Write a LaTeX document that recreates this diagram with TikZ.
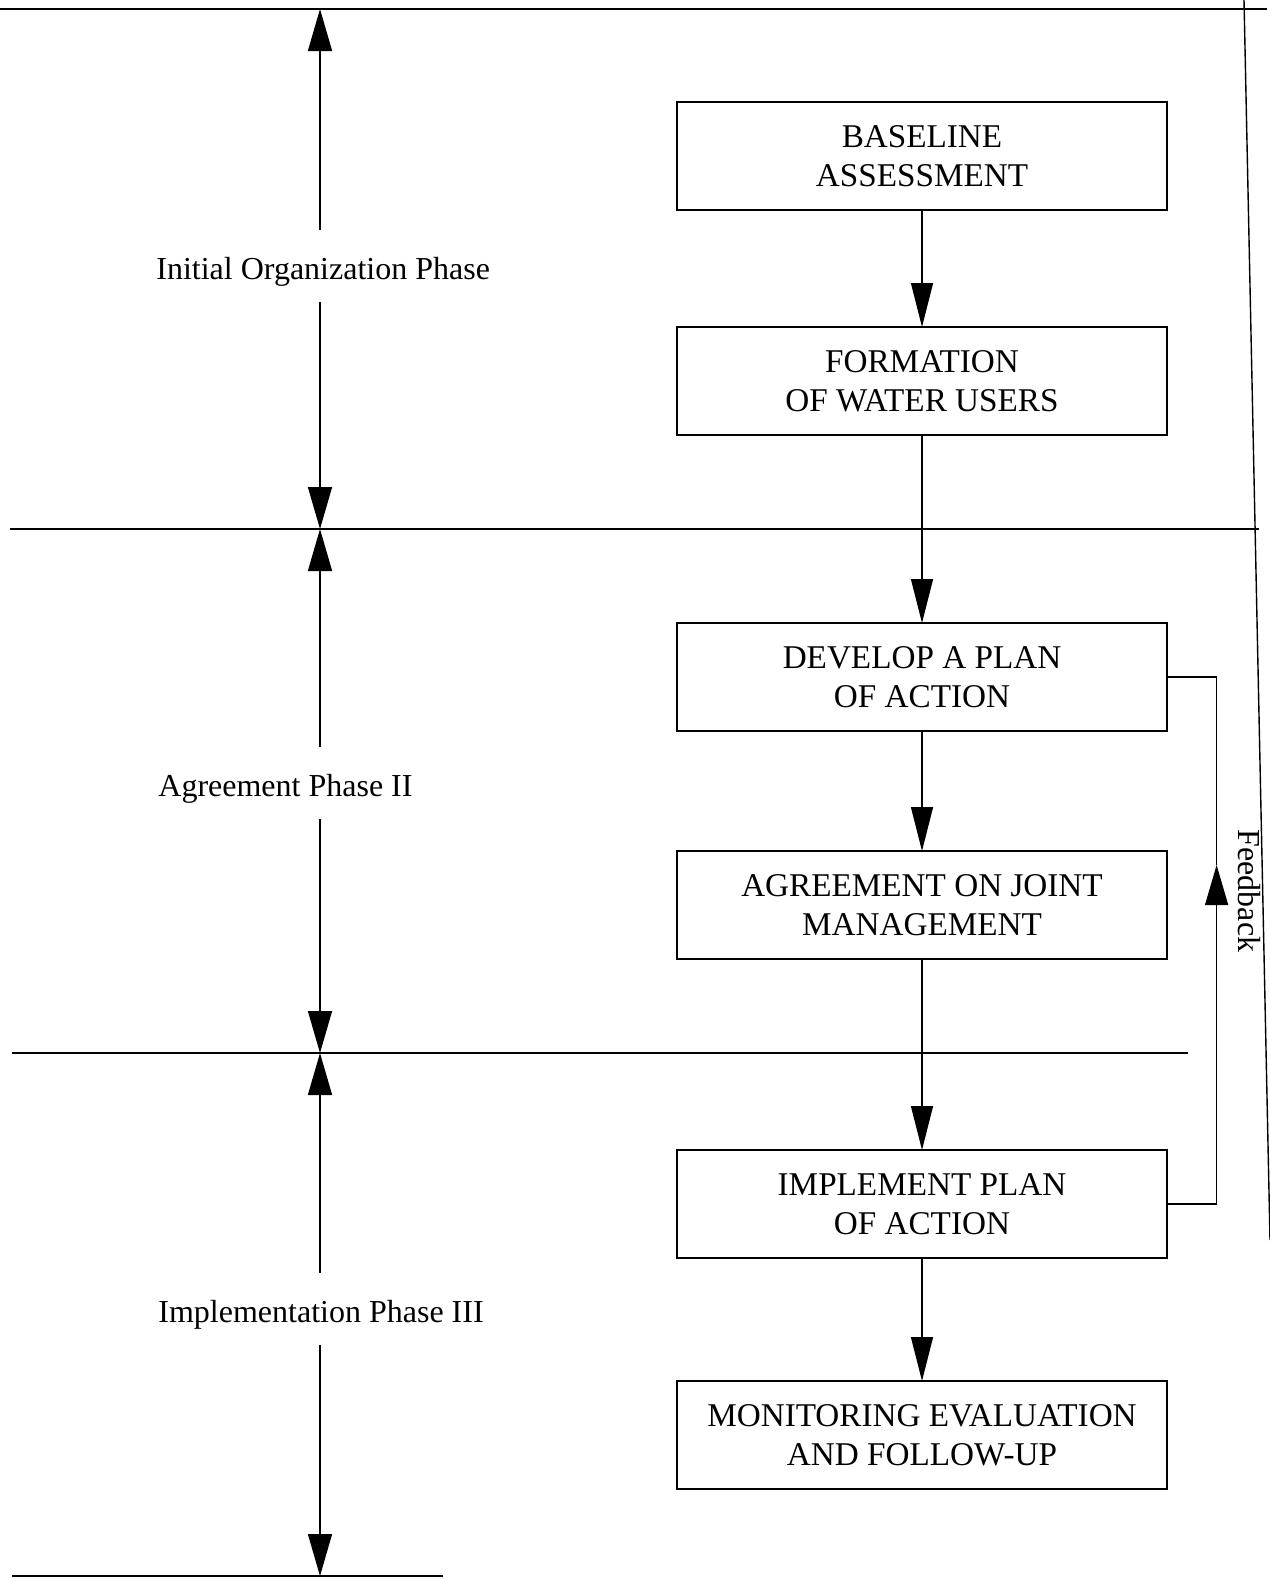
\documentclass[tikz,border=0pt]{standalone}
\usepackage{fontspec}
\setmainfont{Liberation Serif}
\usetikzlibrary{positioning, arrows.meta}

\begin{document}
\begin{tikzpicture}[
    x=0.5pt, y=-0.5pt,
    every node/.style={font=\fontsize{16}{19.5}\selectfont},
    stage/.style={draw, rectangle, line width=1pt, outer sep=0pt, minimum width=245pt, minimum height=54pt, inner sep=0pt, align=center, font=\fontsize{16.6}{19.5}\selectfont},
    phase/.style={anchor=west, inner xsep=0pt, inner ysep=7.5pt},
    arrow/.style={-{Triangle[length=22pt, width=11pt]}, line width=0.7pt},
    phasearrow/.style={-{Triangle[length=21pt, width=12pt]}, line width=0.7pt},
    bound/.style={line width=1.1pt}
  ]
    \useasboundingbox (0,0) rectangle (1269,1579);

    % stages of the process
    \node[stage] (baseline) at (922,156) {BASELINE\\ASSESSMENT};
    \node[stage] (formation) [below=58.5pt of baseline] {FORMATION\\OF WATER USERS};
    \node[stage] (develop) [below=94pt of formation] {DEVELOP A PLAN\\OF ACTION};
    \node[stage] (agreement) [below=60pt of develop] {AGREEMENT ON JOINT\\MANAGEMENT};
    \node[stage] (implement) [below=95.5pt of agreement] {IMPLEMENT PLAN\\OF ACTION};
    \node[stage] (monitor) [below=61.5pt of implement] {MONITORING EVALUATION\\AND FOLLOW-UP};

    \draw[arrow] (baseline) -- (formation);
    \draw[arrow] (formation) -- (develop);
    \draw[arrow] (develop) -- (agreement);
    \draw[arrow] (agreement) -- (implement);
    \draw[arrow] (implement) -- (monitor);

    % phase boundaries
    \coordinate (b0) at (320,9);
    \coordinate (b1) at (320,529);
    \coordinate (b2) at (320,1053);
    \coordinate (b3) at (320,1576);
    \draw[bound] (0,9) -- (1267,9);
    \draw[bound] (10,529) -- (1259,529);
    \draw[bound] (12,1053) -- (1188,1053);
    \draw[bound] (12,1576) -- (443,1576);

    % phases
    \node[phase] (initial) at (156,272) {Initial Organization Phase};
    \node[phase] (agreephase) at (158,789) {Agreement Phase II};
    \node[phase] (implphase) at (158,1315) {Implementation Phase III};

    \draw[phasearrow] ([yshift=6pt]initial.north -| b0) -- (b0);
    \draw[phasearrow] (initial.south -| b1) -- (b1);
    \draw[phasearrow] ([yshift=6pt]agreephase.north -| b1) -- (b1);
    \draw[phasearrow] (agreephase.south -| b2) -- (b2);
    \draw[phasearrow] ([yshift=6pt]implphase.north -| b2) -- (b2);
    \draw[phasearrow] (implphase.south -| b3) -- (b3);

    % feedback loop
    \coordinate (fbtip) at (1216.6,865);
    \draw[-{Triangle[length=20pt, width=11.5pt]}, line width=0.7pt] (implement.east) -| (fbtip);
    \draw[line width=0.7pt] (fbtip) |- (develop.east);
    \node[rotate=-90] (feedback) at (1249,891) {Feedback};

    \draw[line width=0.7pt] (1244,0) -- (1270,1240);
\end{tikzpicture}
\end{document}
